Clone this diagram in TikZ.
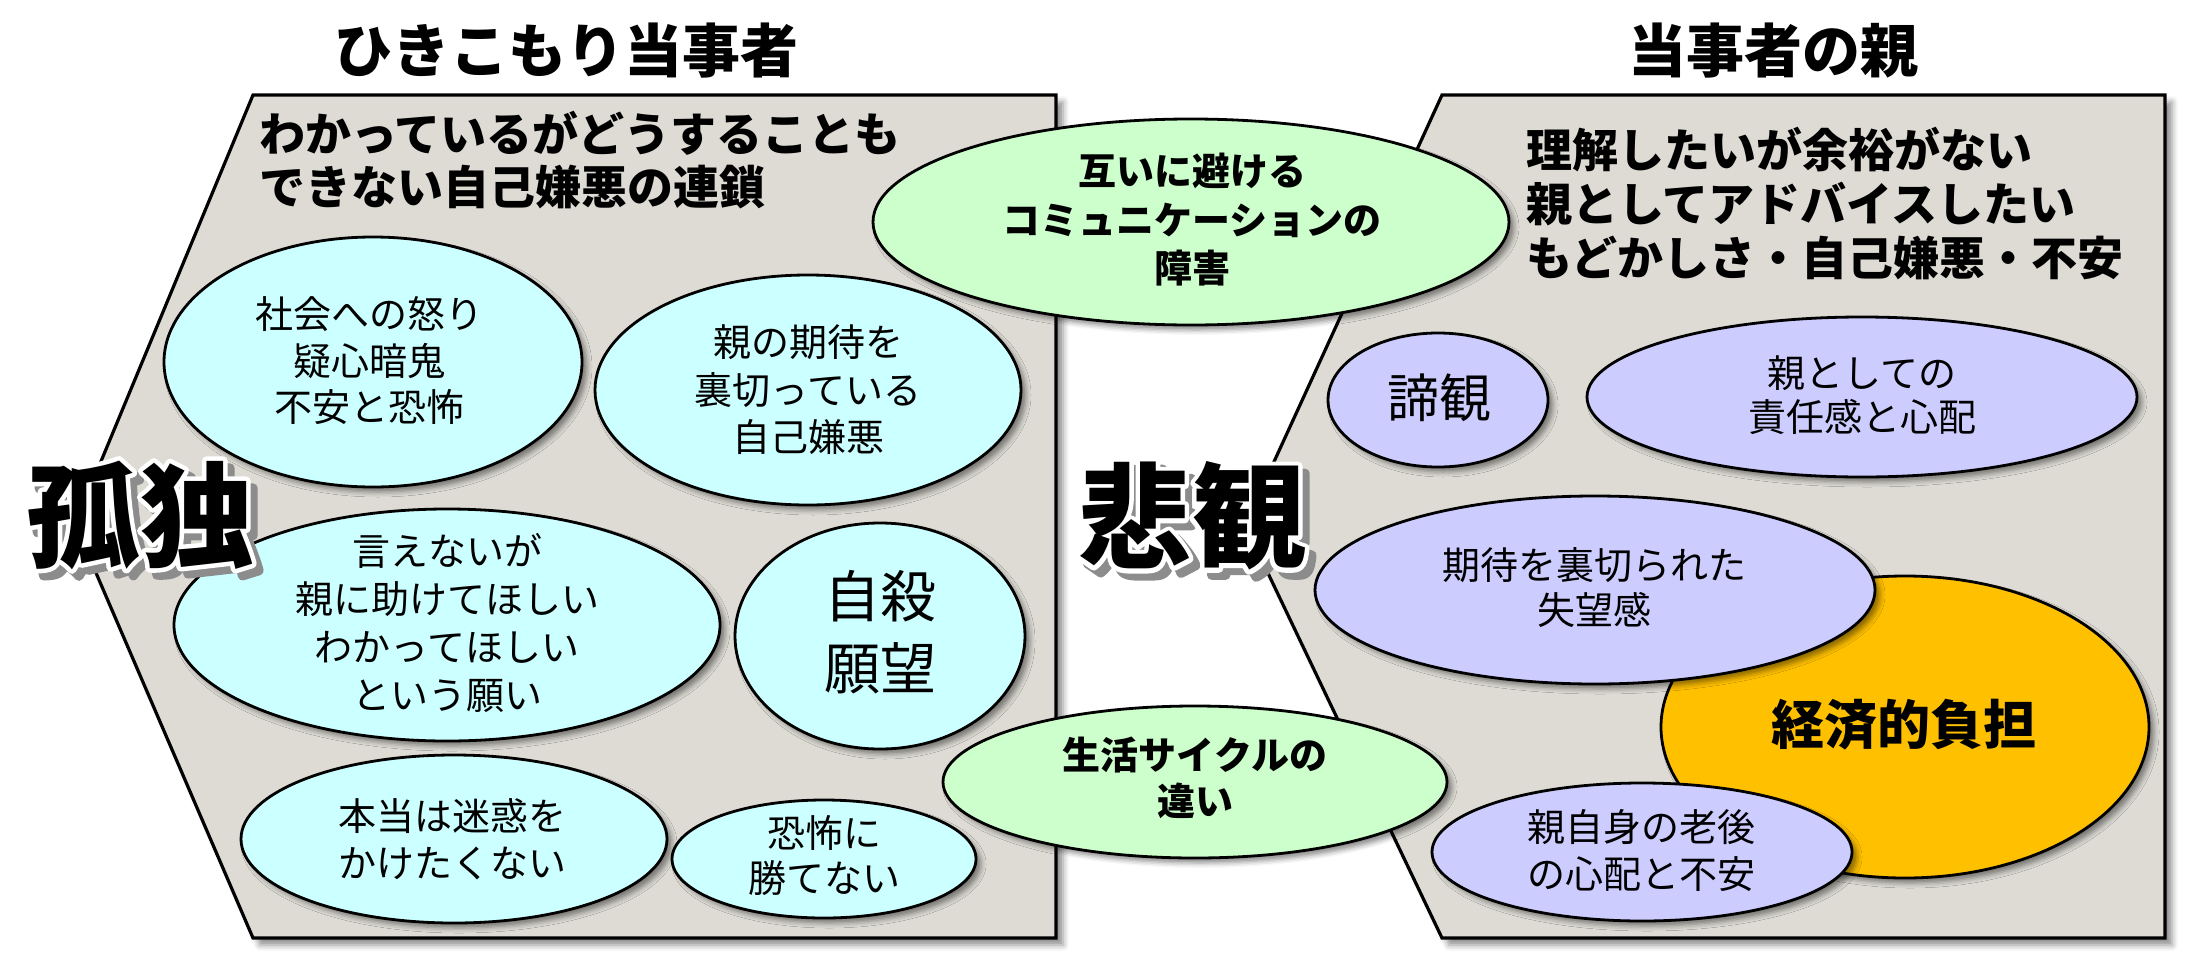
\documentclass[tikz,border=0pt]{standalone}
\usepackage{fontspec}
\setmainfont{Noto Sans CJK JP}
\usetikzlibrary{shapes.geometric,shadows.blur}

\definecolor{panelgray}{RGB}{221,219,212}
\definecolor{cyanfill}{RGB}{204,255,255}
\definecolor{greenfill}{RGB}{204,255,204}
\definecolor{purplefill}{RGB}{204,204,255}
\definecolor{orangefill}{RGB}{255,192,0}

% stroked text (fill + stroke in the current colour)
\newcommand\strokedtext[2]{\special{pdf:literal direct 1 j #1 w 2 Tr}#2\special{pdf:literal direct 0 Tr}}
% black word with white outline and grey drop shadow, in one box
\newcommand\outlinedword[1]{%
  \makebox[0pt][l]{\hspace*{7pt}\raisebox{-7pt}[0pt][0pt]{\color{black!45}\strokedtext{9}{#1}}}%
  \makebox[0pt][l]{\color{white}\strokedtext{9}{#1}}%
  #1}

\tikzset{
  panel/.style={fill=panelgray, draw=black, line width=3.2pt, line join=miter,
    blur shadow={shadow xshift=7pt, shadow yshift=-7pt, shadow blur radius=6pt, shadow opacity=45}},
  bubble/.style={ellipse, draw=black, line width=2.8pt, inner sep=0pt,
    blur shadow={shadow xshift=5pt, shadow yshift=-5pt, shadow blur radius=5pt, shadow opacity=45}},
  cyanb/.style={bubble, fill=cyanfill},
  greenb/.style={bubble, fill=greenfill},
  purpleb/.style={bubble, fill=purplefill},
  orangeb/.style={bubble, fill=orangefill},
  txt/.style={align=center, inner sep=0pt, text=black},
  titletxt/.style={inner sep=0pt, font=\bfseries\fontsize{58}{60}\selectfont},
  headtxt/.style={align=left, inner sep=0pt, anchor=west},
  bigfont/.style={inner sep=0pt, font=\bfseries\fontsize{114}{114}\selectfont}
}

\begin{document}
\begin{tikzpicture}[x=1pt, y=-1pt]
\useasboundingbox (0,0) rectangle (2203,977);

% panels
\path[panel] (253,95) -- (1056,95) -- (1056,938) -- (253,938) -- (75,524) -- cycle;
\path[panel] (1442,95) -- (2165,95) -- (2165,938) -- (1442,938) -- (1245,525) -- cycle;

% titles
\node[titletxt] (t1) at (566,51) {ひきこもり当事者};
\node[titletxt] (t2) at (1773,51) {当事者の親};

% headers
\node[headtxt, font=\bfseries\fontsize{46}{53}\selectfont] (h1) at (259,160)
  {わかっているがどうすることも\\できない自己嫌悪の連鎖};
\node[headtxt, font=\bfseries\fontsize{46}{54}\selectfont] (h2) at (1526,204)
  {理解したいが余裕がない\\親としてアドバイスしたい\\もどかしさ・自己嫌悪・不安};

% left panel bubbles
\node[cyanb, minimum width=418pt, minimum height=250pt] (e1) at (373,362) {};
\node[cyanb, minimum width=426pt, minimum height=230pt] (e2) at (808,390) {};
\node[cyanb, minimum width=546pt, minimum height=232pt] (e3) at (447,625) {};
\node[cyanb, minimum width=290pt, minimum height=226pt] (e4) at (880,636) {};
\node[cyanb, minimum width=426pt, minimum height=168pt] (e5) at (454,839) {};
\node[cyanb, minimum width=304pt, minimum height=118pt] (e6) at (824,859) {};

\node[txt, font=\fontsize{38}{46.5}\selectfont] (e1t) at (369,361) {社会への怒り\\疑心暗鬼\\不安と恐怖};
\node[txt, font=\fontsize{38}{47.5}\selectfont] (e2t) at (808,390) {親の期待を\\裏切っている\\自己嫌悪};
\node[txt, font=\fontsize{38}{47.7}\selectfont] (e3t) at (447,623) {言えないが\\親に助けてほしい\\わかってほしい\\という願い};
\node[txt, font=\fontsize{56}{72}\selectfont] (e4t) at (880,632) {自殺\\願望};
\node[txt, font=\fontsize{38}{47}\selectfont] (e5t) at (452,839) {本当は迷惑を\\かけたくない};
\node[txt, font=\fontsize{38}{45}\selectfont] (e6t) at (824,855) {恐怖に\\勝てない};

% right panel bubbles
\node[purpleb, minimum width=220pt, minimum height=134pt] (p1) at (1438,400) {};
\node[purpleb, minimum width=550pt, minimum height=160pt] (p2) at (1862,397) {};
\node[orangeb, minimum width=488pt, minimum height=302pt] (o1) at (1905,727) {};
\node[purpleb, minimum width=560pt, minimum height=188pt] (p3) at (1595,590) {};
\node[purpleb, minimum width=420pt, minimum height=138pt] (p4) at (1642,852) {};

\node[txt, font=\fontsize{52}{52}\selectfont] (p1t) at (1439,398) {諦観};
\node[txt, font=\fontsize{38}{44}\selectfont] (p2t) at (1862,395) {親としての\\責任感と心配};
\node[txt, font=\bfseries\fontsize{53}{53}\selectfont] (o1t) at (1904,725) {経済的負担};
\node[txt, font=\fontsize{38}{45}\selectfont] (p3t) at (1594,588) {期待を裏切られた\\失望感};
\node[txt, font=\fontsize{38}{47}\selectfont] (p4t) at (1641,851) {親自身の老後\\の心配と不安};

% middle (green) bubbles
\node[greenb, minimum width=636pt, minimum height=206pt] (g1) at (1191,222) {};
\node[greenb, minimum width=504pt, minimum height=152pt] (g2) at (1195,782) {};
\node[txt, font=\bfseries\fontsize{38}{48.5}\selectfont] (g1t) at (1192,220) {互いに避ける\\コミュニケーションの\\障害};
\node[txt, font=\bfseries\fontsize{38}{46}\selectfont] (g2t) at (1195,778) {生活サイクルの\\違い};

% big words with outline and shadow
\node[bigfont] (k1) at (140,515) {\outlinedword{孤独}};
\node[bigfont] (k2) at (1192,516) {\outlinedword{悲観}};
\end{tikzpicture}
\end{document}
